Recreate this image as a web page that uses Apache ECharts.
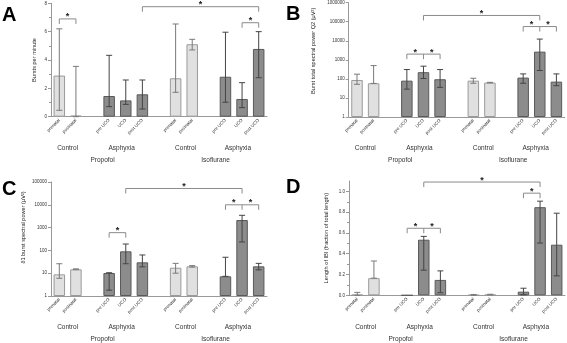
<!DOCTYPE html>
<html>
<head>
<meta charset="utf-8">
<script src="https://cdn.jsdelivr.net/npm/echarts@6/dist/echarts.min.js"></script>
<style>
  html, body { margin: 0; padding: 0; background: #fff; }
  #chart { width: 567px; height: 343px; }
</style>
</head>
<body>
<div id="chart"></div>
<script>
// slots on each x axis, blank ones are gaps between groups
const categories = ["prenatal", "postnatal", "", "pre UCO", "UCO", "post UCO", "", "prenatal", "postnatal", "", "pre UCO", "UCO", "post UCO"];
const darkSlots = [false, false, null, true, true, true, null, false, false, null, true, true, true];
const groupNames = ["Control", "Asphyxia", "Control", "Asphyxia"];
const groupAt = [0.5, 3.75, 7.6, 10.75];
const drugNames = ["Propofol", "Isoflurane"];
const drugAt = [2.6, 9.4];

// A - bursts per minute (bar, lower, upper)
const burstRate = [2.9, 0.08, null, 1.46, 1.15, 1.58, null, 2.71, 5.11, null, 2.82, 1.25, 4.78];
const burstRateLow = [0.45, 0, null, 0.71, 0.87, 0.54, null, 1.72, 4.71, null, 1.02, 0.64, 2.75];
const burstRateHigh = [6.2, 3.55, null, 4.33, 2.59, 2.59, null, 6.54, 5.46, null, 5.96, 2.4, 6.0];
const burstRateSig = [[0, 1, 6.9], [5, 12, 7.76], [11, 12, 6.63]];

// B - burst total spectral power Q2
const totalPower = [88, 59, null, 81, 225, 96, null, 81, 64, null, 117, 2700, 72];
const totalPowerLow = [52, 58, null, 29, 105, 36, null, 59, 62, null, 59, 275, 44];
const totalPowerHigh = [177, 500, null, 310, 465, 310, null, 108, 66, null, 183, 12300, 183];
const totalPowerSig = [[3, 5, 2000, 4], [4, 11, 214000], [10, 12, 56000, 11]];

// C - delta1 burst spectral power
const deltaPower = [8.9, 14.8, null, 10.2, 91, 30, null, 17.4, 20, null, 7.3, 2150, 20];
const deltaPowerLow = [6.0, 14.3, null, 1.8, 26, 19, null, 10, 18.5, null, 7.3, 234, 14];
const deltaPowerHigh = [26, 15.5, null, 10.5, 190, 63, null, 27, 21.5, null, 50, 3460, 27];
const deltaPowerSig = [[3, 4, 600], [4, 11, 52000], [10, 12, 10000, 11]];

// D - length of IBI
const ibiFraction = [0.005, 0.165, null, 0, 0.535, 0.148, null, 0.002, 0.006, null, 0.035, 0.848, 0.487];
const ibiFractionLow = [0, 0.165, null, 0, 0.242, 0.025, null, 0, 0.004, null, 0.005, 0.503, 0.187];
const ibiFractionHigh = [0.028, 0.33, null, 0, 0.567, 0.235, null, 0.008, 0.01, null, 0.068, 0.906, 0.79];
const ibiFractionSig = [[3, 5, 0.645, 4], [4, 11, 1.09], [10, 11, 0.983]];

const ibiTicks = [0, 0.2, 0.4, 0.6, 0.8, 1.0];

const FONT = "Liberation Sans, Arial, sans-serif";
const chart = echarts.init(document.getElementById("chart"), null, { renderer: "canvas" });

const panels = [
  { letter: "A", values: burstRate, low: burstRateLow, high: burstRateHigh, sig: burstRateSig,
    grid: { left: 51, top: 3.3, width: 216, height: 113.4 }, letterPos: [2, 15],
    yAxis: { type: "value", min: 0, max: 8, interval: 2, minorTick: { show: true, splitNumber: 2, length: 2, lineStyle: { color: "#999" } },
      name: "Bursts per minute", nameGap: 14, pad: 0 } },
  { letter: "B", values: totalPower, low: totalPowerLow, high: totalPowerHigh, sig: totalPowerSig,
    grid: { left: 348.7, top: 2.7, width: 216, height: 114.3 }, letterPos: [286, 14.5],
    yAxis: { type: "log", logBase: 10, min: 1, max: 1000000,
      name: "Burst total spectral power Q2 (μV²)", nameGap: 32, pad: 18 } },
  { letter: "C", values: deltaPower, low: deltaPowerLow, high: deltaPowerHigh, sig: deltaPowerSig,
    grid: { left: 51, top: 182, width: 216, height: 114 }, letterPos: [2, 189.5],
    yAxis: { type: "log", logBase: 10, min: 1, max: 100000,
      name: "δ1 burst spectral power (μV²)", nameGap: 25, pad: 23 } },
  { letter: "D", values: ibiFraction, low: ibiFractionLow, high: ibiFractionHigh, sig: ibiFractionSig,
    grid: { left: 349, top: 181, width: 216, height: 114.3 }, letterPos: [286, 187.5],
    yAxis: { type: "value", min: 0, max: 1.1,
      axisTick: { customValues: ibiTicks }, axisLabelValues: ibiTicks, fmt: (v) => v.toFixed(1),
      minorTick: { show: true, splitNumber: 2, length: 2, lineStyle: { color: "#999" } },
      name: "Length of IBI (fraction of total length)", nameGap: 20, pad: 0 } },
];

const grids = [], xAxes = [], yAxes = [], series = [], letters = [];

panels.forEach((p, g) => {
  grids.push(Object.assign({ outerBoundsMode: "none", containLabel: false }, p.grid));

  xAxes.push({
    type: "category", gridIndex: g, data: categories,
    axisLine: { onZero: false, lineStyle: { color: "#999", width: 1 } },
    axisTick: { alignWithLabel: true, length: 3, interval: (i) => categories[i] === "", lineStyle: { color: "#999" } },
    axisLabel: { interval: 0, rotate: 45, fontSize: 4.5, margin: 3, color: "#333", fontFamily: FONT },
  });
  xAxes.push({
    type: "value", gridIndex: g, min: -0.5, max: 12.5, position: "bottom",
    axisLine: { show: false, onZero: false }, axisTick: { show: false }, splitLine: { show: false },
    axisLabel: { customValues: groupAt, formatter: (v) => groupNames[groupAt.indexOf(v)], margin: 28,
      fontSize: 6.5, color: "#333", fontFamily: FONT },
  });
  xAxes.push({
    type: "value", gridIndex: g, min: -0.5, max: 12.5, position: "bottom",
    axisLine: { show: false, onZero: false }, axisTick: { show: false }, splitLine: { show: false },
    axisLabel: { customValues: drugAt, formatter: (v) => drugNames[drugAt.indexOf(v)], margin: 40,
      fontSize: 6.5, color: "#333", fontFamily: FONT },
  });

  const y = p.yAxis;
  yAxes.push({
    type: y.type, logBase: y.logBase, gridIndex: g, min: y.min, max: y.max, interval: y.interval,
    name: y.name, nameLocation: "middle", nameGap: y.nameGap,
    nameTextStyle: { fontSize: 5.6, color: "#222", fontFamily: FONT, padding: [0, 0, 0, y.pad] },
    axisLine: { show: true, onZero: false, lineStyle: { color: "#999", width: 1 } },
    axisTick: Object.assign({ show: true, length: 3, lineStyle: { color: "#999" } }, y.axisTick || {}),
    minorTick: y.minorTick || { show: false },
    splitLine: { show: false },
    axisLabel: {
      fontSize: 4.5, margin: 4, color: "#333", fontFamily: FONT,
      customValues: y.axisLabelValues,
      formatter: y.fmt || ((v) => String(Math.round(v))),
    },
  });

  series.push({
    type: "bar", xAxisIndex: 3 * g, yAxisIndex: g, barWidth: 11.5, z: 2,
    data: p.values.map((v, i) => v === null ? null : {
      value: v,
      itemStyle: darkSlots[i]
        ? { color: "#8c8c8c", borderColor: "#5a5a5a", borderWidth: 1 }
        : { color: "#e0e0e0", borderColor: "#9a9a9a", borderWidth: 1 },
    }),
  });

  const errData = [];
  p.values.forEach((v, i) => {
    if (v !== null && p.high[i] > p.low[i]) errData.push([i, p.low[i], p.high[i]]);
  });
  series.push({
    type: "custom", xAxisIndex: 3 * g, yAxisIndex: g, z: 3,
    encode: { x: 0, y: [1, 2] },
    data: errData,
    renderItem: (params, api) => {
      const idx = api.value(0);
      const lo = api.coord([idx, api.value(1)]);
      const hi = api.coord([idx, api.value(2)]);
      const stroke = darkSlots[idx] ? "#444" : "#7a7a7a";
      const cap = 3;
      const st = { stroke: stroke, lineWidth: 1 };
      return {
        type: "group",
        children: [
          { type: "line", shape: { x1: lo[0], y1: lo[1], x2: hi[0], y2: hi[1] }, style: st },
          { type: "line", shape: { x1: hi[0] - cap, y1: hi[1], x2: hi[0] + cap, y2: hi[1] }, style: st },
          { type: "line", shape: { x1: lo[0] - cap, y1: lo[1], x2: lo[0] + cap, y2: lo[1] }, style: st },
        ],
      };
    },
  });

  const sig = p.sig;
  series.push({
    type: "custom", xAxisIndex: 3 * g, yAxisIndex: g, z: 4, clip: false,
    encode: { x: [0, 1], y: 2 },
    data: sig.map((s) => [s[0], s[1], s[2]]),
    renderItem: (params, api) => {
      const s = sig[params.dataIndex];
      const a = api.coord([s[0], s[2]]);
      const b = api.coord([s[1], s[2]]);
      const drop = 5;
      const st = { stroke: "#8a8a8a", lineWidth: 1, fill: null };
      const children = [{
        type: "polyline",
        shape: { points: [[a[0], a[1] + drop], [a[0], a[1]], [b[0], b[1]], [b[0], b[1] + drop]] },
        style: st,
      }];
      let stars;
      if (s.length > 3) {
        const m = api.coord([s[3], s[2]]);
        children.push({ type: "line", shape: { x1: m[0], y1: m[1], x2: m[0], y2: m[1] + drop }, style: st });
        stars = [(a[0] + m[0]) / 2, (m[0] + b[0]) / 2];
      } else {
        stars = [(a[0] + b[0]) / 2];
      }
      stars.forEach((x) => children.push({
        type: "text",
        style: { text: "*", x: x, y: a[1] - 2, align: "center", verticalAlign: "middle",
          font: "bold 9px " + FONT, fill: "#222" },
      }));
      return { type: "group", children: children };
    },
  });

  letters.push({
    type: "text", left: p.letterPos[0], top: p.letterPos[1] - 10,
    style: { text: p.letter, font: "bold 20px " + FONT, fill: "#000" },
  });
});

chart.setOption({
  backgroundColor: "#fff",
  animation: false,
  grid: grids,
  xAxis: xAxes,
  yAxis: yAxes,
  series: series,
  graphic: letters,
});
</script>
</body>
</html>
